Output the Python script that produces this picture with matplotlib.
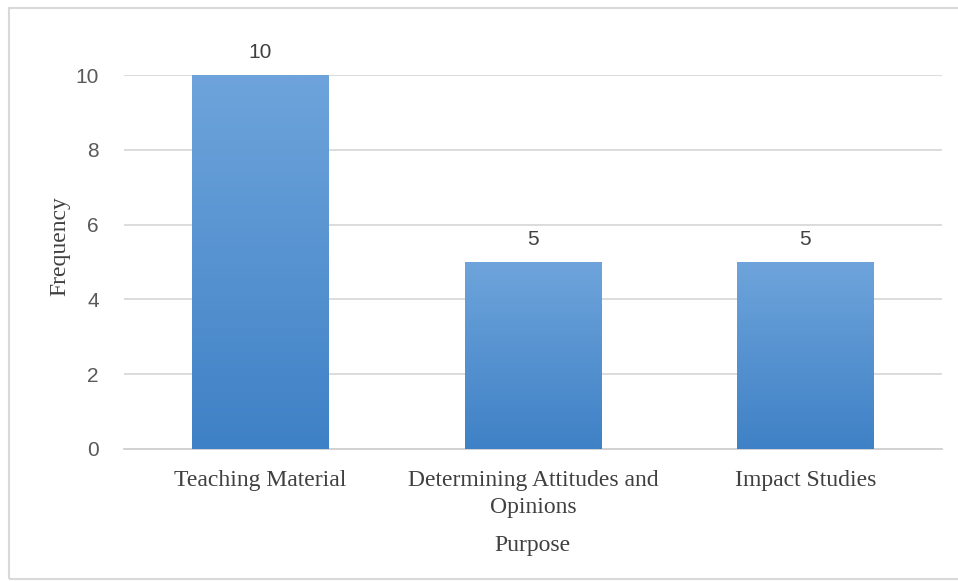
import numpy as np
import matplotlib
matplotlib.use("Agg")
import matplotlib.pyplot as plt
from matplotlib.patches import Rectangle
from matplotlib.colors import LinearSegmentedColormap

categories = ["Teaching Material", "Determining Attitudes and\nOpinions", "Impact Studies"]
frequency = [10, 5, 5]
y_ticks = [0, 2, 4, 6, 8, 10]

fig = plt.figure(figsize=(9.58, 5.81), dpi=100)
ax = fig.add_axes([0.1294, 0.2272, 0.8536, 0.6437])

# light frame round the chart, running off the right edge
fig.patches.append(Rectangle((9 / 958, 2 / 581), 960 / 958, 571 / 581,
                             transform=fig.transFigure, fill=False,
                             edgecolor="#d9d9d9", linewidth=1.5))

x = np.arange(len(categories))
bars = ax.bar(x, frequency, width=0.5, color="#5b9bd5", zorder=2)

# vertical gradient inside each bar, lighter at the top
cmap = LinearSegmentedColormap.from_list("bar", ["#3f81c6", "#6ea4db"])
grad = np.linspace(0, 1, 256).reshape(-1, 1)
for b in bars:
    x0, w, h = b.get_x(), b.get_width(), b.get_height()
    im = ax.imshow(grad, cmap=cmap, origin="lower", aspect="auto",
                   extent=(x0, x0 + w, 0, h), zorder=3)
    im.set_clip_path(b)
    b.set_facecolor("none")
    b.set_edgecolor("none")

for xi, v in zip(x, frequency):
    ax.text(xi, v + 0.35, str(v), ha="center", va="bottom", fontsize=15,
            color="#404040", family="Liberation Sans", clip_on=False)

ax.set_xlim(-0.5, 2.5)
ax.set_ylim(0, 10)
ax.set_yticks(y_ticks)
ax.set_xticks(x)
ax.set_xticklabels(categories, family="Liberation Serif", fontsize=17,
                   color="#404040", linespacing=1.4)
ax.tick_params(axis="y", length=0, pad=18, labelsize=15, labelcolor="#595959")
ax.tick_params(axis="x", length=0, pad=15)
for lbl in ax.get_yticklabels():
    lbl.set_family("Liberation Sans")

ax.grid(axis="y", color="#d9d9d9", linewidth=1.3, zorder=0)
for s in ["top", "right", "left"]:
    ax.spines[s].set_visible(False)
ax.spines["bottom"].set_color("#d0d0d0")
ax.spines["bottom"].set_linewidth(1.3)

ax.set_ylabel("Frequency", family="Liberation Serif", fontsize=17,
              color="#404040", va="center")
ax.yaxis.set_label_coords(-0.078, 0.543)
ax.set_xlabel("Purpose", family="Liberation Serif", fontsize=17,
              color="#404040", labelpad=12)

fig.savefig("out.png", dpi=100)
